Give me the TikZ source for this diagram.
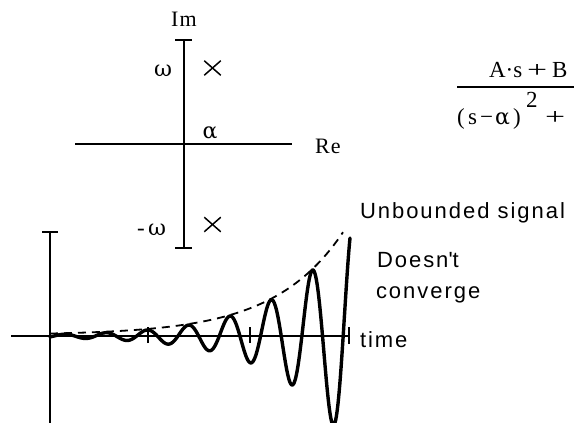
\documentclass[tikz,border=0pt]{standalone}
\usepackage{fontspec}
\setmainfont{Liberation Serif}
\newfontfamily\sansf[LetterSpace=9]{Liberation Sans}
\newfontfamily\serf[LetterSpace=6]{Liberation Serif}
\newfontfamily\serg{Liberation Serif}
\newfontfamily\grk{DejaVu Serif}
\usetikzlibrary{shapes.misc}
\begin{document}
\begin{tikzpicture}[x=1pt,y=-1pt,
  axisline/.style={line width=1.8pt, line cap=butt},
  signal/.style={line width=3.4pt, line join=round, line cap=round},
  envelope/.style={line width=1.8pt, dash pattern=on 8pt off 6pt},
  lbl/.style={inner sep=0pt, outer sep=0pt},
  sanslbl/.style={lbl, font=\sansf\fontsize{22}{26}\selectfont, anchor=base west},
  serlbl/.style={lbl, font=\serf\fontsize{22}{26}\selectfont},
  greek/.style={lbl, font=\grk\fontsize{22}{26}\selectfont},
  formula/.style={lbl, font=\serg\fontsize{23}{27}\selectfont, anchor=base west},
  pole/.style={cross out, draw, line width=1.5pt, minimum width=15pt, minimum height=13pt, inner sep=0pt}
]
\clip (0,0) rectangle (574,423);
% ---------- pole-zero plane ----------
\coordinate (imtop) at (184,40);
\coordinate (imbot) at (184,248);
\coordinate (reL) at (75,144);
\coordinate (reR) at (292,144);
\draw[axisline] (imtop) -- (imbot);
\draw[axisline] (reL) -- (reR);
\draw[axisline] ([xshift=-9]imtop) -- ([xshift=8]imtop);
\draw[axisline] ([xshift=-9]imbot) -- ([xshift=8]imbot);
\node[pole] (p1) at (212.5,68) {};
\node[pole] (p2) at (212.5,224.5) {};
\node[serlbl, anchor=base] (im) at (184,27) {Im};
\node[serlbl, anchor=base west] (re) at (315,153) {Re};
\node[greek, anchor=base east] (w) at (172,76) {ω};
\node[formula, anchor=base west] (mwd) at (137,235) {-};
\node[greek, anchor=base east] (mw) at (166,235) {ω};
\node[greek, anchor=base] (al) at (210,138) {α};
% ---------- formula ----------
\coordinate (fbL) at (457,87);
\coordinate (fbR) at (580,87);
\draw[axisline] (fbL) -- (fbR);
\node[formula] (nA) at (489,77) {A·s};
\node[formula] (nP) at (527,77) {\scalebox{1.55}[1]{+}};
\node[formula] (nB) at (552,77) {B};
\node[formula] (dL) at (457,124) {(};
\node[formula] (dS) at (468,124) {s};
\node[formula] (dM) at (480,124) {−};
\node[greek, anchor=base west] (dA) at (495,124) {α};
\node[formula] (dR) at (513,124) {)};
\node[formula] (dT) at (526,107) {2};
\node[formula] (dP) at (545,124) {\scalebox{1.55}[1]{+}};
% ---------- signal ----------
\coordinate (sTop) at (50,232);
\coordinate (sBot) at (50,430);
\coordinate (tL) at (11,336);
\coordinate (tR) at (349,336);
\draw[axisline] (sTop) -- (sBot);
\draw[axisline] ([xshift=-8]sTop) -- ([xshift=8]sTop);
\draw[axisline] (tL) -- (tR);
\coordinate (k1) at (148,336);
\coordinate (k2) at (250,336);
\draw[axisline] ([yshift=-7]k1) -- ([yshift=9]k1);
\draw[axisline] ([yshift=-7]k2) -- ([yshift=9]k2);
\draw[axisline] ([yshift=-8]tR) -- ([yshift=9]tR);
\draw[envelope] plot[domain=50:343, samples=150] (\x, {335 - 1.47*exp(0.0145*(\x-50))});
\draw[signal] plot[domain=50:350, samples=500] (\x, {336 - 1.47*exp(0.0145*(\x-50))*cos(8.7167*(\x-147))});
\node[sanslbl] (unb) at (360,218) {Unbounded signal};
\node[sanslbl] (dc1) at (377,267) {Doesn\textquotesingle t};
\node[sanslbl] (dc2) at (376,298) {converge};
\node[sanslbl] (time) at (360,347) {time};
\end{tikzpicture}
\end{document}
